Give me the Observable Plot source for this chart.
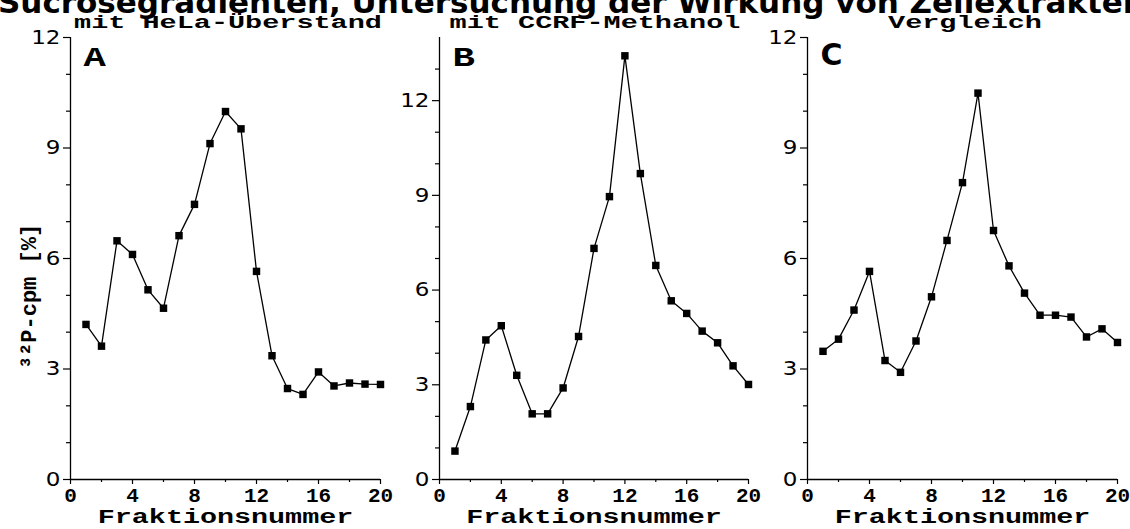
<!DOCTYPE html>
<html>
<head>
<meta charset="utf-8">
<script src="https://cdn.jsdelivr.net/npm/d3@7"></script>
<script src="https://cdn.jsdelivr.net/npm/@observablehq/plot@0.6"></script>
<style>
  html, body { margin: 0; padding: 0; background: #fff; }
  #wrap { position: relative; width: 1130px; height: 529px; overflow: hidden; }
  .panel { position: absolute; top: 0; }
  .title { position: absolute; white-space: nowrap; font-family: "DejaVu Sans"; font-weight: bold;
           font-size: 31px; line-height: 31px; top: -13px; left: -2px; color: #000; }
  .sub { position: absolute; white-space: nowrap; font-family: "Liberation Mono"; font-weight: bold;
         font-size: 19px; line-height: 19px; color: #000; transform-origin: center; }
</style>
</head>
<body>
<div id="wrap"></div>
<script>
// ---- data ----
const fractions = [1,2,3,4,5,6,7,8,9,10,11,12,13,14,15,16,17,18,19,20];
const helaValues = [4.21,3.62,6.48,6.11,5.15,4.65,6.62,7.47,9.12,9.99,9.52,5.65,3.36,2.47,2.31,2.92,2.54,2.62,2.59,2.58];
const ccrfValues = [0.90,2.31,4.42,4.87,3.30,2.08,2.08,2.90,4.53,7.32,8.96,13.42,9.69,6.78,5.66,5.26,4.70,4.33,3.60,3.01];
const vergleichValues = [3.48,3.81,4.60,5.65,3.23,2.91,3.76,4.96,6.49,8.06,10.49,6.76,5.80,5.06,4.46,4.46,4.41,3.87,4.09,3.72];
const xMajorTicks = [0,4,8,12,16,20];
const xMinorTicks = [2,6,10,14,18];
const yMajorTicks = [0,3,6,9,12];
const yMinorTicksA = [1,2,4,5,7,8,10,11];
const yMinorTicksB = [1,2,4,5,7,8,10,11,13];
const yMinorTicksC = [1,2,4,5,7,8,10,11];
const yMaxes = [12,14,12];
const panelTitles = ["mit HeLa-Überstand","mit CCRF-Methanol","Vergleich"];
const panelLetters = ["A","B","C"];
const figureTitle = "Sucrosegradienten, Untersuchung der Wirkung von Zellextrakten";
const xLabel = "Fraktionsnummer";
const yLabel = "³²P-cpm [%]";

// ---- layout ----
const layouts = [
  {left: 0,   width: 400, mL: 70, mR: 20, values: helaValues,      minor: yMinorTicksA},
  {left: 380, width: 380, mL: 59, mR: 12, values: ccrfValues,      minor: yMinorTicksB},
  {left: 760, width: 370, mL: 47, mR: 13, values: vergleichValues, minor: yMinorTicksC}
];
const S = {ytick: 1.15, xtick: 1.0, xlabel: 1.42, ylabel: 1.0, letter: 1.38, sub: 1.5};

function stretchText(t, s) {
  if (s === 1) return;
  const tr = t.getAttribute("transform") || "";
  const x = parseFloat(t.getAttribute("x")) || 0;
  const y = parseFloat(t.getAttribute("y")) || 0;
  t.setAttribute("transform", `${tr} translate(${x},${y}) scale(${s},1) translate(${-x},${-y})`);
}

const wrap = document.getElementById("wrap");
layouts.forEach((L, i) => {
  const data = fractions.map((f, j) => ({f, v: L.values[j]}));
  const isC = i === 2;
  const marks = [
    Plot.ruleX([0], {stroke: "#000", strokeWidth: 1.3}),
    Plot.ruleY([0], {stroke: "#000", strokeWidth: 1.3}),
    Plot.axisY(yMajorTicks, {tickSize: 7, tickPadding: 3, label: null, fontFamily: "DejaVu Sans",
      fontSize: 20, stroke: "#000", strokeWidth: 1.2, fill: "#000"}),
    Plot.axisY(L.minor, {tickSize: 4, label: null, fill: "none", stroke: "#000", strokeWidth: 1.2}),
    Plot.axisX(xMajorTicks, {tickSize: 5, tickPadding: 3, label: null, fontFamily: "Liberation Mono",
      fontWeight: "bold", fontSize: 21, stroke: "#000", strokeWidth: 1.2, fill: "#000"}),
    Plot.axisX(xMinorTicks, {tickSize: 3, label: null, fill: "none", stroke: "#000", strokeWidth: 1.2}),
    Plot.line(data, {x: "f", y: "v", stroke: "#000", strokeWidth: 1.3}),
    Plot.dot(data, {x: "f", y: "v", symbol: "square", r: 4.2, fill: "#000", stroke: "none"}),
    Plot.text([panelLetters[i]], {frameAnchor: "top-left", dx: 13, dy: isC ? 6 : 9, textAnchor: "start",
      lineAnchor: "top", fontFamily: isC ? "DejaVu Sans" : "Liberation Mono", fontWeight: "bold",
      fontSize: isC ? 30 : 27, fill: "#000"}),
    Plot.text([xLabel], {frameAnchor: "bottom", dy: 29, textAnchor: "middle", lineAnchor: "top",
      fontFamily: "Liberation Mono", fontWeight: "bold", fontSize: 20, fill: "#000"})
  ];
  if (i === 0) {
    marks.push(Plot.text([yLabel], {frameAnchor: "left", rotate: -90, dx: -42, dy: 38,
      textAnchor: "middle", lineAnchor: "middle",
      fontFamily: "Liberation Mono", fontWeight: "bold", fontSize: 22, fill: "#000"}));
  }
  const svg = Plot.plot({
    width: L.width, height: 529,
    marginLeft: L.mL, marginRight: L.mR, marginTop: 37, marginBottom: 50,
    x: {domain: [0, 20]},
    y: {domain: [0, yMaxes[i]]},
    style: {background: "transparent", overflow: "visible", color: "#000"},
    marks
  });
  svg.classList.add("panel");
  svg.style.left = L.left + "px";
  svg.querySelectorAll("text").forEach(t => {
    const g = t.closest("g[aria-label]");
    const lab = g ? g.getAttribute("aria-label") : "";
    const txt = t.textContent;
    let s = 1;
    if (txt === xLabel) s = S.xlabel;
    else if (txt === yLabel) s = S.ylabel;
    else if (txt === "A" || txt === "B") s = S.letter;
    else if (lab.indexOf("y-axis") === 0) s = S.ytick;
    else if (lab.indexOf("x-axis") === 0) s = S.xtick;
    stretchText(t, s);
  });
  wrap.appendChild(svg);
});

// title (clipped at top, as in the reference)
const t = document.createElement("div");
t.className = "title";
t.textContent = figureTitle;
wrap.appendChild(t);

// panel subtitles
const subCenters = [228, 595, 965];
panelTitles.forEach((txt, i) => {
  const d = document.createElement("div");
  d.className = "sub";
  d.textContent = txt;
  d.style.left = subCenters[i] + "px";
  d.style.top = "14px";
  d.style.transform = `translateX(-50%) scaleX(${S.sub})`;
  wrap.appendChild(d);
});
</script>
</body>
</html>
